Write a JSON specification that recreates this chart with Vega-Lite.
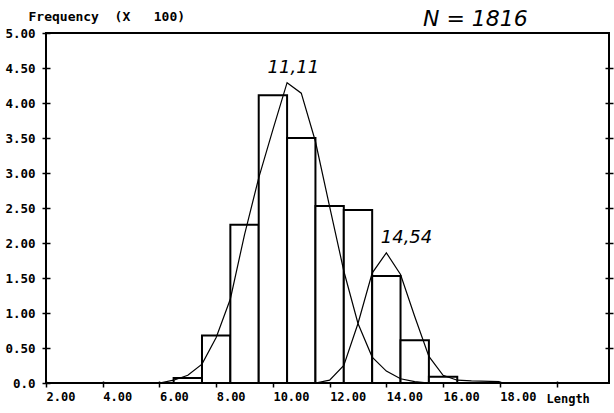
{
  "$schema": "https://vega.github.io/schema/vega-lite/v6.json",
  "width": 563,
  "height": 350,
  "autosize": {"type": "none"},
  "padding": {"left": 46, "top": 33, "right": 5, "bottom": 30},
  "background": "white",
  "config": {
    "view": {"stroke": "black", "strokeWidth": 2},
    "axis": {
      "labelFont": "DejaVu Sans Mono",
      "labelFontWeight": "bold",
      "labelFontSize": 12,
      "labelColor": "black",
      "tickColor": "black",
      "domain": false,
      "grid": false,
      "titleFont": "DejaVu Sans Mono",
      "titleFontWeight": "bold",
      "titleFontSize": 12,
      "titleColor": "black"
    }
  },
  "datasets": {
    "bars": [
      {"lo": 6.5, "hi": 7.5, "f": 0.07},
      {"lo": 7.5, "hi": 8.5, "f": 0.68},
      {"lo": 8.5, "hi": 9.5, "f": 2.26},
      {"lo": 9.5, "hi": 10.5, "f": 4.11},
      {"lo": 10.5, "hi": 11.5, "f": 3.5},
      {"lo": 11.5, "hi": 12.5, "f": 2.53},
      {"lo": 12.5, "hi": 13.5, "f": 2.47},
      {"lo": 13.5, "hi": 14.5, "f": 1.53},
      {"lo": 14.5, "hi": 15.5, "f": 0.61},
      {"lo": 15.5, "hi": 16.5, "f": 0.09}
    ],
    "curves": [
      {"c": "a", "x": 6.0, "y": 0.0},
      {"c": "a", "x": 6.5, "y": 0.04},
      {"c": "a", "x": 7.0, "y": 0.11},
      {"c": "a", "x": 7.5, "y": 0.27},
      {"c": "a", "x": 8.0, "y": 0.65},
      {"c": "a", "x": 8.5, "y": 1.2},
      {"c": "a", "x": 9.0, "y": 2.12},
      {"c": "a", "x": 9.5, "y": 2.93},
      {"c": "a", "x": 10.0, "y": 3.62},
      {"c": "a", "x": 10.5, "y": 4.29},
      {"c": "a", "x": 11.0, "y": 4.14},
      {"c": "a", "x": 11.5, "y": 3.45},
      {"c": "a", "x": 12.0, "y": 2.52},
      {"c": "a", "x": 12.5, "y": 1.6},
      {"c": "a", "x": 13.0, "y": 0.85},
      {"c": "a", "x": 13.5, "y": 0.37},
      {"c": "a", "x": 14.0, "y": 0.17},
      {"c": "a", "x": 14.5, "y": 0.06},
      {"c": "a", "x": 15.0, "y": 0.02},
      {"c": "a", "x": 15.5, "y": 0.0},
      {"c": "b", "x": 11.5, "y": 0.0},
      {"c": "b", "x": 12.0, "y": 0.04},
      {"c": "b", "x": 12.5, "y": 0.25},
      {"c": "b", "x": 13.0, "y": 0.85},
      {"c": "b", "x": 13.5, "y": 1.57},
      {"c": "b", "x": 14.0, "y": 1.86},
      {"c": "b", "x": 14.5, "y": 1.55},
      {"c": "b", "x": 15.0, "y": 0.95},
      {"c": "b", "x": 15.5, "y": 0.38},
      {"c": "b", "x": 16.0, "y": 0.11},
      {"c": "b", "x": 16.5, "y": 0.04},
      {"c": "b", "x": 17.0, "y": 0.03},
      {"c": "b", "x": 18.0, "y": 0.02}
    ],
    "notes": [
      {"x": 10.72, "y": 4.5, "t": "11,11"},
      {"x": 14.71, "y": 2.07, "t": "14,54"}
    ],
    "nnote": [
      {"x": 17.14, "y": 5.2, "t": "N = 1816"}
    ]
  },
  "resolve": {"axis": {"y": "independent"}},
  "layer": [
    {
      "data": {"name": "bars"},
      "mark": {"type": "bar", "fill": "white", "stroke": "black", "strokeWidth": 2, "clip": true},
      "encoding": {
        "x": {
          "field": "lo", "type": "quantitative",
          "scale": {"domain": [2, 21.85], "nice": false, "zero": false},
          "axis": {
            "values": [2, 4, 6, 8, 10, 12, 14, 16, 18, 20],
            "labelExpr": "datum.value == 20 ? '' : format(datum.value, '.2f')",
            "labelAlign": "left",
            "offset": -2,
            "tickSize": 6,
            "tickWidth": 1.5,
            "labelPadding": 4,
            "labelFlush": false,
            "labelOverlap": false,
            "title": "Length",
            "titleAnchor": "start",
            "titleAlign": "left",
            "titleBaseline": "alphabetic",
            "titleX": 500,
            "titleY": 21
          }
        },
        "x2": {"field": "hi"},
        "y": {
          "field": "f", "type": "quantitative",
          "scale": {"domain": [0, 5], "nice": false},
          "axis": {
            "orient": "left",
            "values": [0, 0.5, 1, 1.5, 2, 2.5, 3, 3.5, 4, 4.5, 5],
            "labelExpr": "datum.value == 0 ? '0.0' : format(datum.value, '.2f')",
            "labelFontSize": 12.5,
            "offset": -4,
            "tickSize": 8,
            "tickWidth": 1.5,
            "labelPadding": 7,
            "labelFlush": false,
            "labelOverlap": false,
            "title": "Frequency\u00a0\u00a0(X\u00a0\u00a0\u00a0100)",
            "titleFontSize": 13,
            "titleAngle": 0,
            "titleAlign": "left",
            "titleBaseline": "alphabetic",
            "titleX": -22,
            "titleY": -13
          }
        },
        "y2": {"datum": 0}
      }
    },
    {
      "data": {"name": "curves"},
      "mark": {"type": "line", "color": "black", "strokeWidth": 1.2, "clip": true},
      "encoding": {
        "x": {"field": "x", "type": "quantitative"},
        "y": {
          "field": "y", "type": "quantitative",
          "axis": {
            "orient": "right",
            "values": [0.5, 1, 1.5, 2, 2.5, 3, 3.5, 4, 4.5],
            "labels": false,
            "title": null,
            "offset": -4,
            "tickSize": 8,
            "tickWidth": 1.5
          }
        },
        "detail": {"field": "c"}
      }
    },
    {
      "data": {"name": "notes"},
      "mark": {"type": "text", "font": "DejaVu Sans", "fontStyle": "italic", "fontWeight": 300, "fontSize": 18, "color": "black"},
      "encoding": {
        "x": {"field": "x", "type": "quantitative"},
        "y": {"field": "y", "type": "quantitative", "axis": null},
        "text": {"field": "t"}
      }
    },
    {
      "data": {"name": "nnote"},
      "mark": {"type": "text", "font": "DejaVu Sans", "fontStyle": "italic", "fontWeight": 300, "fontSize": 22, "color": "black"},
      "encoding": {
        "x": {"field": "x", "type": "quantitative"},
        "y": {"field": "y", "type": "quantitative", "axis": null},
        "text": {"field": "t"}
      }
    }
  ]
}
